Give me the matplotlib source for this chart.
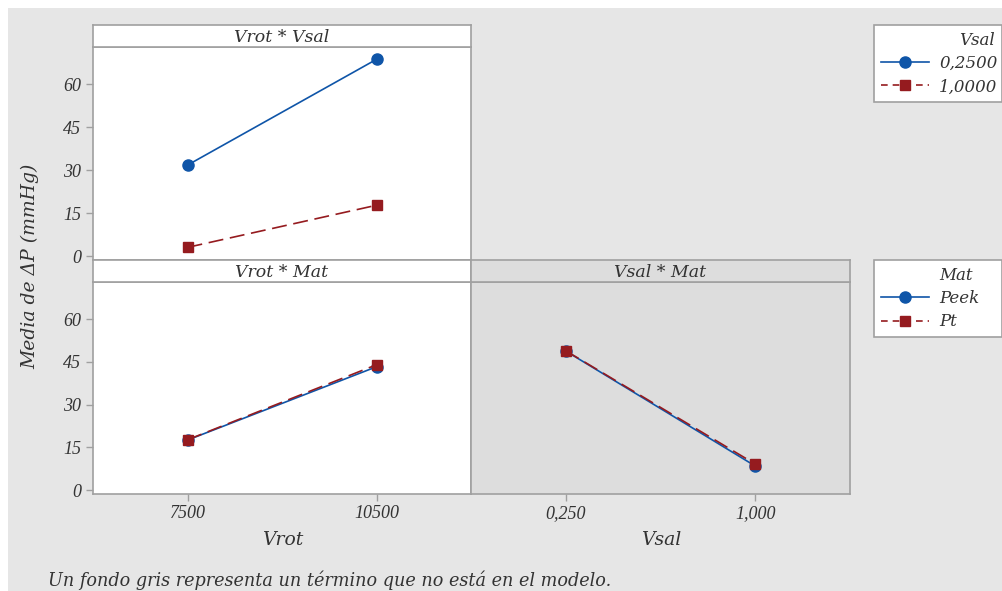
import matplotlib
matplotlib.use("Agg")
import matplotlib.pyplot as plt
from matplotlib.patches import Rectangle
from matplotlib.lines import Line2D

# datos
vrot_levels = ["7500", "10500"]
vsal_levels = ["0,250", "1,000"]
vsal_legend = ["0,2500", "1,0000"]
mat_levels = ["Peek", "Pt"]

vrot_vsal_025 = [31.8, 68.7]
vrot_vsal_100 = [3.1, 17.8]
vrot_peek = [17.6, 43.3]
vrot_pt = [17.7, 44.0]
vsal_peek = [48.8, 8.5]
vsal_pt = [48.9, 9.2]

yticks = [0, 15, 30, 45, 60]

W, H = 1003, 591
BLUE = "#0f55a8"
RED = "#951b1f"
EDGE = "#a0a0a0"
BG = "#e6e6e6"
GREY_PANEL = "#dddddd"
TXT = "#333333"
SERIF = "DejaVu Serif"
NUMS = "Liberation Serif"

plt.rcParams["font.family"] = SERIF
plt.rcParams["font.style"] = "italic"

fig = plt.figure(figsize=(W / 100, H / 100), dpi=100)
fig.patch.set_facecolor("white")
fig.patches.append(Rectangle((8 / W, 0), 1, 1 - 8 / H, transform=fig.transFigure,
                             facecolor=BG, edgecolor="none", zorder=-10))


def box(x0, y0, x1, y1):
    return [x0 / W, 1 - y1 / H, (x1 - x0) / W, (y1 - y0) / H]


def style(ax, face):
    ax.set_facecolor(face)
    for s in ax.spines.values():
        s.set_color(EDGE)
        s.set_linewidth(1.2)
    ax.tick_params(colors=EDGE, labelcolor=TXT, length=5, width=1, labelsize=13)
    ax.set_xlim(-0.5, 1.5)
    ax.set_ylim(-1.3, 73)


def numfont(ax):
    for t in ax.get_xticklabels() + ax.get_yticklabels():
        t.set_fontfamily(NUMS)
        t.set_fontsize(13)


def strip(rect, title, face):
    s = fig.add_axes(box(*rect))
    s.set_facecolor(face)
    s.set_xticks([])
    s.set_yticks([])
    for sp in s.spines.values():
        sp.set_color(EDGE)
        sp.set_linewidth(1.2)
    s.text(0.5, 0.45, title, ha="center", va="center", fontsize=12.5, color=TXT,
           transform=s.transAxes)


def draw(ax, a, b):
    x = [0, 1]
    ax.plot(x, a, color=BLUE, lw=1.2, marker="o", ms=8, zorder=3)
    ax.plot(x, b, color=RED, lw=1.2, ls=(0, (9, 4)), marker="s", ms=7.5, zorder=4)


# panel Vrot * Vsal
ax1 = fig.add_axes(box(93, 47, 471, 260))
style(ax1, "white")
draw(ax1, vrot_vsal_025, vrot_vsal_100)
ax1.set_xticks([])
ax1.set_yticks(yticks)
numfont(ax1)
strip((93, 25, 471, 47), "Vrot * Vsal", "white")

# panel Vrot * Mat
ax2 = fig.add_axes(box(93, 282, 471, 494))
style(ax2, "white")
draw(ax2, vrot_peek, vrot_pt)
ax2.set_yticks(yticks)
ax2.set_xticks([0, 1])
ax2.set_xticklabels(vrot_levels)
ax2.tick_params(axis="x", pad=3)
numfont(ax2)
strip((93, 260, 471, 282), "Vrot * Mat", "white")

# panel Vsal * Mat (no esta en el modelo)
ax3 = fig.add_axes(box(471, 282, 850, 494))
style(ax3, GREY_PANEL)
draw(ax3, vsal_peek, vsal_pt)
ax3.set_yticks([])
ax3.set_xticks([0, 1])
ax3.set_xticklabels(vsal_levels)
ax3.tick_params(axis="x", pad=3)
numfont(ax3)
strip((471, 260, 850, 282), "Vsal * Mat", GREY_PANEL)

fig.text(283 / W, 1 - 540 / H, "Vrot", ha="center", va="center", fontsize=13.5, color=TXT)
fig.text(661 / W, 1 - 540 / H, "Vsal", ha="center", va="center", fontsize=13.5, color=TXT)
fig.text(30 / W, 1 - 266 / H, "Media de ΔP (mmHg)", ha="center", va="center",
         rotation=90, fontsize=13.5, color=TXT)
fig.text(48 / W, 1 - 580 / H, "Un fondo gris representa un término que no está en el modelo.",
         ha="left", va="center", fontsize=12.7, color=TXT)

# leyendas
h_blue = Line2D([], [], color=BLUE, lw=1.2, marker="o", ms=8)
h_red = Line2D([], [], color=RED, lw=1.2, ls=(0, (4, 3)), marker="s", ms=7.5)
h_none = Line2D([], [], color="none")

leg_kw = dict(loc="upper left", mode="expand", fontsize=12, frameon=True, fancybox=False,
              edgecolor=EDGE, framealpha=1, handlelength=2.9, handletextpad=0.6,
              borderaxespad=0, labelspacing=0.38)

leg1 = fig.legend([h_blue, h_red], vsal_legend, title="Vsal",
                  bbox_to_anchor=(874 / W, 1 - 102 / H, 128 / W, 77 / H),
                  alignment="right", title_fontsize=12, **leg_kw)
leg1.get_frame().set_linewidth(1.2)
leg1.get_title().set_color(TXT)
for t in leg1.get_texts():
    t.set_color(TXT)

leg2 = fig.legend([h_none, h_blue, h_red], ["Mat"] + mat_levels,
                  bbox_to_anchor=(874 / W, 1 - 336 / H, 128 / W, 76 / H), **leg_kw)
leg2.get_frame().set_linewidth(1.2)
for t in leg2.get_texts():
    t.set_color(TXT)

fig.savefig("out.png", dpi=100)
